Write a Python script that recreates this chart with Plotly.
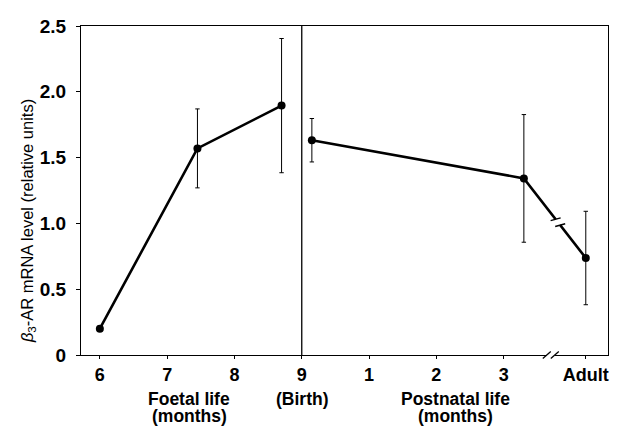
import plotly.graph_objects as go

# ---------------- data ----------------
foetal_age_months = [6.0, 7.45, 8.7]
foetal_level = [0.20, 1.57, 1.895]
foetal_sem = [0.02, 0.30, 0.51]

postnatal_age_months = [0.15, 3.3]
postnatal_level = [1.632, 1.342]
postnatal_sem = [0.165, 0.485]

adult_level = [0.737]
adult_sem = [0.355]

x_tick_labels = ["6", "7", "8", "9", "1", "2", "3", "Adult"]
y_tick_vals = [0, 0.5, 1.0, 1.5, 2.0, 2.5]
y_tick_labels = ["0", "0.5", "1.0", "1.5", "2.0", "2.5"]

# ---------------- axis geometry ----------------
BIRTH = 9.0          # birth = 9 months of foetal life
ADULT_POS = 13.22    # position of the "Adult" column on the axis
X_RANGE = [5.72, 13.55]
Y_RANGE = [0, 2.5]

# page places the figure 8px in from the top-left corner
W, H = 610, 419
ML, MT = 73, 8
PW, PH = 527, 339
MR, MB = W - ML - PW, H - MT - PH
SX = PW / (X_RANGE[1] - X_RANGE[0])   # px per x unit
SY = PH / (Y_RANGE[1] - Y_RANGE[0])   # px per y unit

FONT = "Liberation Sans, Arial, Helvetica, sans-serif"

post_x = [BIRTH + m for m in postnatal_age_months] + [ADULT_POS]
post_y = postnatal_level + adult_level
post_e = postnatal_sem + adult_sem

tick_vals = [6, 7, 8, 9] + [BIRTH + m for m in (1, 2, 3)] + [ADULT_POS]

fig = go.Figure()

common = dict(
    mode="lines+markers",
    line=dict(color="black", width=2.6),
    marker=dict(color="black", size=8),
    showlegend=False,
    cliponaxis=False,
)
fig.add_trace(go.Scatter(
    x=foetal_age_months, y=foetal_level,
    error_y=dict(type="data", array=foetal_sem, color="black", thickness=1, width=2.2),
    **common))
fig.add_trace(go.Scatter(
    x=post_x, y=post_y,
    error_y=dict(type="data", array=post_e, color="black", thickness=1, width=2.2),
    **common))

shapes = []
# birth divider
shapes.append(dict(type="line", xref="x", yref="paper", x0=BIRTH, x1=BIRTH, y0=0, y1=1,
                   line=dict(color="black", width=1.3), layer="above"))

# break on the line between last postnatal point and adult
x0p, y0p = post_x[-2], post_y[-2]
x1p, y1p = post_x[-1], post_y[-1]
t = 0.55
cx, cy = x0p + t * (x1p - x0p), y0p + t * (y1p - y0p)
dxp, dyp = (x1p - x0p) * SX, -(y1p - y0p) * SY   # pixel vector (y down)
L = (dxp ** 2 + dyp ** 2) ** 0.5
ux, uy = dxp / L, dyp / L


def px2data(px, py):
    return cx + px / SX, cy - py / SY


gx0, gy0 = px2data(-3.6 * ux, -3.6 * uy)
gx1, gy1 = px2data(3.6 * ux, 3.6 * uy)
shapes.append(dict(type="line", xref="x", yref="y", x0=gx0, y0=gy0, x1=gx1, y1=gy1,
                   line=dict(color="white", width=5), layer="above"))
for s in (-1, 1):
    ox, oy = s * 3.8 * ux, s * 3.8 * uy
    ax, ay = px2data(ox - 5.0, oy + 1.4)
    bx, by = px2data(ox + 5.0, oy - 1.4)
    shapes.append(dict(type="line", xref="x", yref="y", x0=ax, y0=ay, x1=bx, y1=by,
                       line=dict(color="black", width=1.5), layer="above"))

# break on the x axis
bxc = 12.70
shapes.append(dict(type="line", xref="x", yref="paper",
                   x0=bxc - 4 / SX, x1=bxc + 4 / SX, y0=0, y1=0,
                   line=dict(color="white", width=4), layer="above"))
for s in (-1, 1):
    xc = bxc + s * 4 / SX
    shapes.append(dict(type="line", xref="x", yref="paper",
                       x0=xc - 4 / SX, y0=-3.5 / PH, x1=xc + 4 / SX, y1=3.5 / PH,
                       line=dict(color="black", width=1.3), layer="above"))

# page-pixel reference positions (axis bottom at 355, axis left at 81)
annotations = [
    dict(text="<i>β</i><sub>3</sub>-AR mRNA level (relative units)", textangle=-90,
         xref="paper", yref="paper", x=(28 - 81) / PW, y=(355 - 217) / PH,
         xanchor="center", yanchor="middle", showarrow=False,
         font=dict(family=FONT, size=16.5, color="black")),
]
ROW1 = (355 - 400) / PH
ROW2 = (355 - 417.5) / PH
for xv, l1, l2 in [(7.33, "Foetal life", "(months)"),
                   (BIRTH, "(Birth)", None),
                   (11.29, "Postnatal life", "(months)")]:
    annotations.append(dict(text=f"<b>{l1}</b>", xref="x", yref="paper", x=xv, y=ROW1,
                            xanchor="center", yanchor="middle", showarrow=False,
                            font=dict(family=FONT, size=17.5, color="black")))
    if l2:
        annotations.append(dict(text=f"<b>{l2}</b>", xref="x", yref="paper", x=xv, y=ROW2,
                                xanchor="center", yanchor="middle", showarrow=False,
                                font=dict(family=FONT, size=17.5, color="black")))

fig.update_layout(
    width=W, height=H,
    margin=dict(l=ML, r=MR, t=MT, b=MB),
    paper_bgcolor="white", plot_bgcolor="white",
    shapes=shapes, annotations=annotations,
    font=dict(family=FONT, color="black"),
)
fig.update_xaxes(
    range=X_RANGE, tickvals=tick_vals, ticktext=x_tick_labels,
    showgrid=False, zeroline=False, showline=True, linecolor="black", linewidth=1.2,
    mirror=True, ticks="outside", ticklen=3, tickcolor="black", tickwidth=1.2,
    tickfont=dict(family=FONT, size=18, color="black", weight="bold"),
    ticklabeloverflow="allow",
)
fig.update_yaxes(
    range=Y_RANGE, tickvals=y_tick_vals, ticktext=y_tick_labels,
    showgrid=False, zeroline=False, showline=True, linecolor="black", linewidth=1.2,
    mirror=True, ticks="outside", ticklen=4, tickcolor="black", tickwidth=1.2,
    tickfont=dict(family=FONT, size=19, color="black", weight="bold"),
    ticklabelstandoff=6, ticklabeloverflow="allow",
)

fig.write_html("out.html")
